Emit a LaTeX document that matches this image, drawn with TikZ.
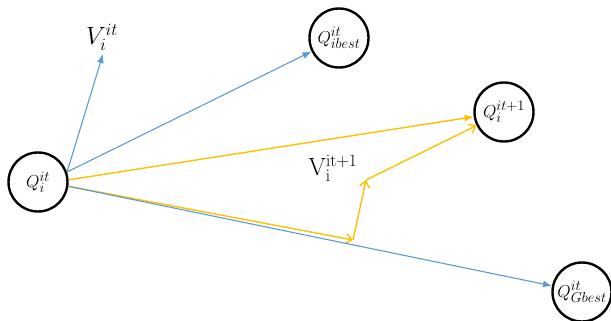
\documentclass[tikz,border=0pt]{standalone}
\usetikzlibrary{arrows.meta}
\definecolor{vblue}{HTML}{5B9BD5}
\definecolor{vgold}{HTML}{FFC000}
\tikzset{
  particle/.style={circle, draw=black, line width=2.4pt, minimum size=59pt, inner sep=0pt,
              font=\fontsize{19}{21}\selectfont},
  vlabel/.style={inner sep=0pt, font=\fontsize{23}{25}\selectfont},
  blueline/.style={draw=vblue, line width=1.1pt, -{Latex[length=9pt,width=7pt]}},
  goldline/.style={draw=vgold, line width=1.4pt, -{Latex[length=9pt,width=7pt]}},
  goldopen/.style={draw=vgold, line width=1.4pt, -{Straight Barb[length=6pt,width=10pt,line width=1.4pt]}},
}
\begin{document}
\begin{tikzpicture}[x=1pt, y=-1pt]
  \useasboundingbox (0,0) rectangle (611,321);

  % particle positions
  \node[particle] (Qi) at (38,182) {$Q_i^{it}$};
  \node[particle] (Qb) at (339,38) {$Q_{ibest}^{it}$};
  \node[particle] (Qn) at (504,112) {$Q_i^{it+1}$};
  \node[particle] (Qg) at (582,292) {$Q_{Gbest}^{it}$};

  % velocity labels
  \node[vlabel] (Vi) at (102,37) {$V_i^{it}$};
  \node[vlabel] (Vn) at (333,168) {$\mathrm{V_i^{it+1}}$};

  % construction points of the velocity update
  \coordinate (vtip) at (103,54);
  \coordinate (m1) at (353,240);
  \coordinate (m2) at (366,180);

  % current velocity and attraction towards the bests
  \draw[blueline] (Qi.19) -- (vtip);
  \draw[blueline] (Qi.19) -- (Qb);
  \draw[goldline] (Qi.4) -- (Qn);
  \draw[goldopen] (Qi.-8) -- (m1);
  \draw[blueline] (Qi.-8) -- (Qg);

  % vector sum giving the new velocity
  \draw[goldopen] (m1) -- (m2);
  \draw[goldopen] (m2) -- (Qn);
\end{tikzpicture}
\end{document}
